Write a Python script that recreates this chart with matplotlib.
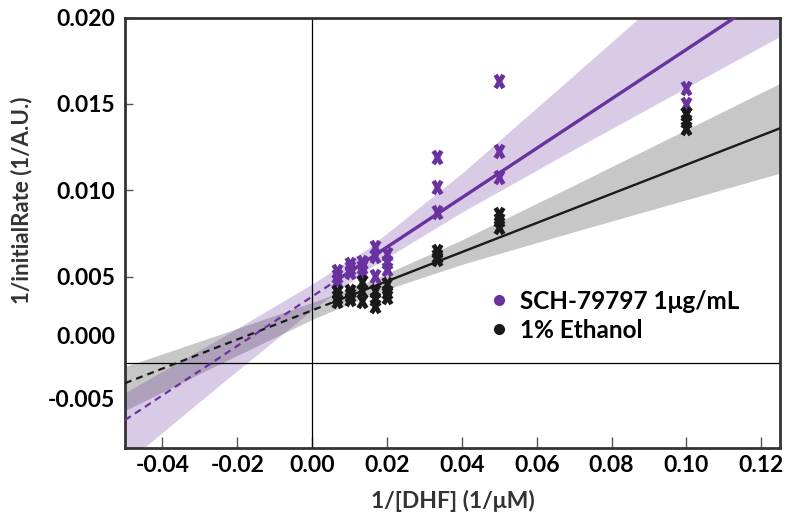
import numpy as np
import matplotlib
matplotlib.use("Agg")
import matplotlib.pyplot as plt
from matplotlib.path import Path
from matplotlib.lines import Line2D

plt.rcParams["font.family"] = ["Lato", "DejaVu Sans"]
plt.rcParams["font.weight"] = "bold"
plt.rcParams["axes.labelweight"] = "bold"
plt.rcParams["lines.scale_dashes"] = False

# ---- data: reciprocal substrate concentration and reciprocal initial rates ----
dhf_inv = [1/150, 1/100, 1/75, 1/60, 1/50, 1/30, 1/20, 1/10]

sch_rate_inv = [
    [0.00535, 0.00506, 0.00477],
    [0.00575, 0.00550, 0.00525],
    [0.00583, 0.00555, 0.00525],
    [0.00669, 0.00621, 0.00506],
    [0.00633, 0.00583, 0.00546],
    [0.01190, 0.01020, 0.00872],
    [0.01633, 0.01228, 0.01074],
    [0.01594, 0.01498, 0.01440],
]
eth_rate_inv = [
    [0.00409, 0.00385, 0.00361],
    [0.00419, 0.00395, 0.00373],
    [0.00467, 0.00419, 0.00361],
    [0.00419, 0.00373, 0.00332],
    [0.00460, 0.00409, 0.00380],
    [0.00650, 0.00620, 0.00600],
    [0.00864, 0.00829, 0.00789],
    [0.01442, 0.01402, 0.01361],
]

# fitted lines (slope, intercept) in double-reciprocal space
sch_fit = (0.143, 0.00385)
eth_fit = (0.0843, 0.00305)

# 95% confidence band edges of the fits
band_x = [-0.05, -0.025, 0.0, 0.015, 0.04, 0.07, 0.10, 0.125]
sch_band_lo = [-0.00587, -0.00138, 0.00302, 0.00540, 0.00869, 0.01233, 0.01590, 0.01886]
sch_band_hi = [-0.00176, 0.00133, 0.00453, 0.00660, 0.01093, 0.01662, 0.02234, 0.02710]
eth_band_lo = [-0.00275, -0.00008, 0.00252, 0.00391, 0.00571, 0.00760, 0.00945, 0.01099]
eth_band_hi = [-0.00020, 0.00163, 0.00350, 0.00471, 0.00713, 0.01030, 0.01351, 0.01619]

x_ticks = [-0.04, -0.02, 0.00, 0.02, 0.04, 0.06, 0.08, 0.10, 0.12]
y_ticks = [0.005, 0.010, 0.015, 0.020]
y_tick_labels = ["0.005", "0.010", "0.015", "0.020"]
series_names = ["SCH-79797 1\u03bcg/mL", "1% Ethanol"]

PURPLE = "#6a329f"
BLACK = "#1a1a1a"

fig = plt.figure(figsize=(7.95, 5.19), dpi=100)
ax = fig.add_axes([125/795, 1 - 447.7/519, 655/795, 430.2/519])
xlim = (-0.05, 0.125)
ylim = (-0.0049, 0.020)

# confidence bands
ax.fill_between(band_x, eth_band_lo, eth_band_hi, color="black", alpha=0.22,
                linewidth=0, zorder=1)
ax.fill_between(band_x, sch_band_lo, sch_band_hi, color=PURPLE, alpha=0.25,
                linewidth=0, zorder=1)

# zero axes
ax.axhline(0, color="black", lw=0.9, zorder=2)
ax.axvline(0, color="black", lw=0.9, zorder=2)

# fitted lines: dashed extrapolation, solid over the measured range
x_min = min(dhf_inv)
for (slope, icpt), col, lw in [(eth_fit, BLACK, 1.7), (sch_fit, PURPLE, 2.4)]:
    xd = np.array([xlim[0], x_min])
    xs = np.array([x_min, xlim[1]])
    ax.plot(xd, icpt + slope * xd, color=col, lw=1.6, ls=(0, (5, 3.6)), zorder=3)
    ax.plot(xs, icpt + slope * xs, color=col, lw=lw, zorder=3)

# replicate points as bold X marks
xmark = Path([(-0.6, -1), (0.6, 1), (-0.6, 1), (0.6, -1)],
             [Path.MOVETO, Path.LINETO, Path.MOVETO, Path.LINETO])
for reps, col in [(sch_rate_inv, PURPLE), (eth_rate_inv, BLACK)]:
    xs = [x for x, r in zip(dhf_inv, reps) for _ in r]
    ys = [v for r in reps for v in r]
    ax.plot(xs, ys, ls="none", marker=xmark, ms=9.5, mew=3.4, mec=col,
            mfc="none", zorder=4)

ax.set_xlim(*xlim)
ax.set_ylim(*ylim)

ax.set_xticks(x_ticks)
ax.set_xticklabels([f"{t:.2f}" for t in x_ticks])
ax.set_yticks(y_ticks)
ax.set_yticklabels(y_tick_labels)
# labels for the lower rows of the value axis
ax.set_yticks([0.00159, -0.00205], minor=True)
ax.set_yticklabels(["0.000", "-0.005"], minor=True)

ax.tick_params(axis="x", which="major", direction="in", length=8, width=1,
               color="#555555", pad=5, labelsize=16.5)
ax.tick_params(axis="y", which="major", direction="in", length=6, width=1,
               color="#555555", pad=7, labelsize=16.5)
ax.tick_params(axis="y", which="minor", length=0, pad=7, labelsize=16.5)
for lbl in (ax.get_xticklabels() + ax.get_yticklabels()
            + ax.get_yticklabels(minor=True)):
    lbl.set_fontweight("bold")
    lbl.set_color("black")

for sp in ax.spines.values():
    sp.set_color("#333333")
    sp.set_linewidth(2)

ax.set_xlabel("1/[DHF] (1/\u03bcM)", fontsize=16.5, color="#333333",
              fontweight="bold", labelpad=10)
ax.set_ylabel("1/initialRate (1/A.U.)", fontsize=16, color="#333333",
              fontweight="bold")
ax.yaxis.set_label_coords(-0.142, 0.576)

handles = [Line2D([], [], ls="none", marker="o", ms=7, color=PURPLE),
           Line2D([], [], ls="none", marker="o", ms=7, color=BLACK)]
leg = ax.legend(handles, series_names, loc="upper left",
                bbox_to_anchor=((482 - 125) / 655, (447.7 - 280) / 430.2),
                frameon=False, fontsize=17.5, handlelength=0.6, handletextpad=0.55,
                labelspacing=0.25, borderaxespad=0)
for t in leg.get_texts():
    t.set_fontweight("bold")

fig.savefig("out.png", dpi=100)
